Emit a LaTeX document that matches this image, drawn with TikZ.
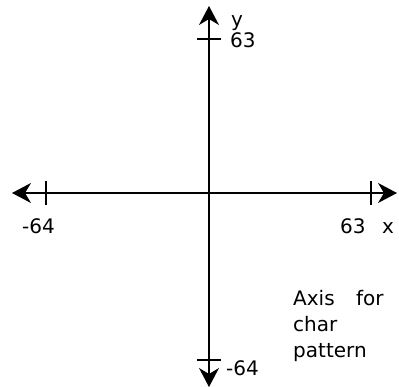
\documentclass[tikz,border=0pt]{standalone}
\usepackage{fontspec}
\setmainfont{DejaVu Sans}
\usetikzlibrary{arrows.meta}
\begin{document}
\begin{tikzpicture}[x=1pt,y=-1pt,
  axisline/.style={line width=1.4pt,-{Stealth[length=19pt,width=20pt,inset=6pt]}},
  tickline/.style={line width=1.4pt},
  lbl/.style={font=\fontsize{20}{26}\selectfont,inner sep=0pt,anchor=base west}]
\useasboundingbox (0,0) rectangle (399,387);
\coordinate (O) at (209,193);
\coordinate (L) at (12,193);
\coordinate (R) at (397,193);
\coordinate (T) at (209,6);
\coordinate (B) at (209,387);
\draw[axisline] (O) -- (L);
\draw[axisline] (O) -- (R);
\draw[axisline] (O) -- (T);
\draw[axisline] (O) -- (B);
\coordinate (tl) at (46,193);
\coordinate (tr) at (371,193);
\coordinate (tt) at (209,39);
\coordinate (tb) at (209,360);
\draw[tickline] ([yshift=-12pt]tl) -- ([yshift=12pt]tl);
\draw[tickline] ([yshift=-12pt]tr) -- ([yshift=12pt]tr);
\draw[tickline] ([xshift=-12pt]tt) -- ([xshift=12pt]tt);
\draw[tickline] ([xshift=-12pt]tb) -- ([xshift=12pt]tb);
\node[lbl] (ylab) at (231,27) {y};
\node[lbl] (ytop) at (230,48) {63};
\node[lbl] (xneg) at (22,234) {-64};
\node[lbl] (xpos) at (340,234) {63};
\node[lbl] (xlab) at (382,234) {x};
\node[lbl] (ybot) at (226,375) {-64};
\node[lbl] (l1) at (293,306) {Axis\hspace{15pt} for};
\node[lbl] (l2) at (293,332) {char};
\node[lbl] (l3) at (293,358) {pattern};
\end{tikzpicture}
\end{document}
